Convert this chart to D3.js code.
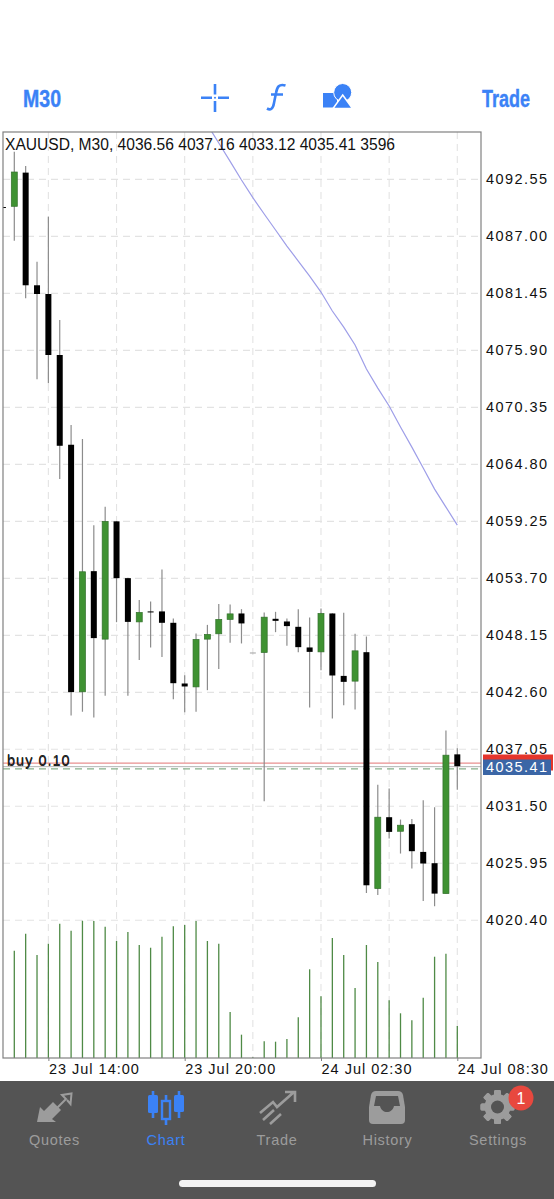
<!DOCTYPE html>
<html>
<head>
<meta charset="utf-8">
<script src="https://cdn.jsdelivr.net/npm/d3@7"></script>
<style>
html,body{margin:0;padding:0;background:#fff;overflow:hidden}
svg{display:block}
text{font-family:"Liberation Sans",Arial,sans-serif}
</style>
</head>
<body>
<script>
const candleIndex = d3.range(-1, 40);
const opens  = [4089.86,4089.93,4093.21,4082.24,4081.39,4075.45,4066.71,4042.65,4054.40,4047.78,4059.25,4053.72,4049.46,4050.48,4050.48,4049.37,4043.46,4043.13,4047.78,4048.30,4049.70,4050.28,4046.48,4046.48,4049.76,4049.50,4048.98,4046.97,4046.54,4050.28,4044.20,4043.69,4046.51,4023.49,4030.44,4029.07,4029.76,4027.06,4025.96,4023.00,4036.56];
const highs  = [4089.86,4095.25,4093.86,4084.54,4088.92,4078.86,4068.63,4067.26,4058.86,4060.67,4059.27,4053.75,4051.58,4051.45,4054.57,4049.80,4044.27,4048.33,4049.17,4051.19,4051.16,4050.70,4046.48,4050.38,4050.44,4049.80,4050.70,4049.89,4050.77,4050.31,4050.34,4048.30,4048.04,4033.59,4033.23,4030.21,4030.27,4032.09,4031.41,4038.88,4037.16];
const lows   = [4089.80,4086.58,4080.97,4073.08,4072.69,4063.37,4040.35,4040.70,4040.15,4042.26,4049.43,4042.26,4045.76,4046.97,4046.05,4041.93,4040.67,4040.70,4042.81,4044.86,4047.42,4047.36,4046.48,4032.00,4048.46,4047.13,4046.51,4041.13,4044.76,4040.05,4041.35,4040.93,4023.06,4022.87,4028.36,4026.90,4025.44,4022.28,4021.77,4023.00,4033.12];
const closes = [4089.80,4093.27,4082.24,4081.39,4075.45,4066.61,4042.62,4054.34,4047.88,4059.25,4053.72,4049.46,4050.38,4050.38,4049.37,4043.49,4043.17,4047.75,4048.24,4049.70,4050.24,4049.31,4046.48,4049.92,4049.56,4049.05,4047.00,4046.54,4050.28,4044.24,4043.62,4046.64,4023.81,4030.44,4029.01,4029.66,4027.13,4025.93,4023.00,4036.48,4035.41];
const volumes = [0,11980,13870,11500,12760,14985,14205,15320,15285,14650,13060,14060,12610,12310,13540,14695,14840,15285,13060,12760,5155,2630,110,1890,1850,2150,4565,9910,6900,13395,11500,7825,12615,10720,6455,5010,4230,6750,11310,11645,3596];
const maIndex = d3.range(17, 40);
const maValues = [4097.87,4096.10,4094.30,4092.49,4090.77,4089.18,4087.62,4086.06,4084.60,4083.14,4081.58,4079.73,4078.17,4076.42,4074.08,4072.23,4070.48,4068.43,4066.48,4064.44,4062.39,4060.64,4058.88];
const priceTicks = [4092.55,4087.00,4081.45,4075.90,4070.35,4064.80,4059.25,4053.70,4048.15,4042.60,4037.05,4031.50,4025.95,4020.40];
const gridIndex = [3,9,15,21,27,33,39];
const timeTickIndex = [3,15,27,39];
const timeTickLabels = ["23 Jul 14:00","23 Jul 20:00","24 Jul 02:30","24 Jul 08:30"];
const headerText = "XAUUSD, M30, 4036.56 4037.16 4033.12 4035.41 3596";
const askLevel = 4035.70, bidLevel = 4035.41, orderLevel = 4035.20;
const askTag = 4035.62;
const orderLabel = "buy 0.10";
const tabLabels = ["Quotes","Chart","Trade","History","Settings"];

const W = 554, H = 1199;
const plot = {l:3, r:481, t:132, b:1058};
const svg = d3.select("body").append("svg").attr("width",W).attr("height",H).attr("viewBox",`0 0 ${W} ${H}`);
svg.append("rect").attr("width",W).attr("height",H).attr("fill","#fff");

const x = d3.scaleLinear().domain([0,39]).range([14.3,457.3]);
const y = d3.scaleLinear().domain([4092.55,4020.40]).range([179.4,920.3]);
const yVol = d3.scaleLinear().domain([0,15320]).range([1058.3,920.7]);

svg.append("clipPath").attr("id","plotClip").append("rect")
  .attr("x",plot.l).attr("y",plot.t).attr("width",plot.r-plot.l).attr("height",plot.b-plot.t);

const GRID = "#e3e3e3";
const gridG = svg.append("g");
gridG.selectAll("line.h").data(priceTicks).join("line").attr("class","h")
  .attr("x1",plot.l).attr("x2",plot.r).attr("y1",d=>y(d)).attr("y2",d=>y(d))
  .attr("stroke",GRID).attr("stroke-width",1.1).attr("stroke-dasharray","7 5");
gridG.selectAll("line.v").data(gridIndex).join("line").attr("class","v")
  .attr("x1",d=>x(d)).attr("x2",d=>x(d)).attr("y1",plot.t).attr("y2",plot.b)
  .attr("stroke",GRID).attr("stroke-width",1.1).attr("stroke-dasharray","7 5");

const chart = svg.append("g").attr("clip-path","url(#plotClip)");

// moving average
const maLine = d3.line().x((d,i)=>x(maIndex[i])).y(d=>y(d));
chart.append("path").attr("d",maLine(maValues)).attr("fill","none").attr("stroke","#9e9ee8").attr("stroke-width",1.2);

// volume
chart.selectAll("line.vol").data(volumes).join("line").attr("class","vol")
  .attr("x1",(d,i)=>x(candleIndex[i])).attr("x2",(d,i)=>x(candleIndex[i]))
  .attr("y1",yVol(0)).attr("y2",d=>yVol(d))
  .attr("stroke","#4f8a46").attr("stroke-width",1.3);

// level lines
chart.append("line").attr("x1",plot.l).attr("x2",plot.r).attr("y1",y(bidLevel)+0.5).attr("y2",y(bidLevel)+0.5).attr("stroke","#b4b4b4").attr("stroke-width",1);
chart.append("line").attr("x1",plot.l).attr("x2",plot.r).attr("y1",y(askLevel)).attr("y2",y(askLevel)).attr("stroke","#e88f8f").attr("stroke-width",1.2);
chart.append("line").attr("x1",plot.l).attr("x2",plot.r).attr("y1",y(orderLevel)+0.6).attr("y2",y(orderLevel)+0.6).attr("stroke","#86b08a").attr("stroke-width",1.1).attr("stroke-dasharray","7 5");

// candles
const candles = candleIndex.map((c,i)=>({c,o:opens[i],h:highs[i],l:lows[i],cl:closes[i]}));
const cg = chart.selectAll("g.candle").data(candles).join("g").attr("class","candle");
cg.append("line").attr("x1",d=>x(d.c)).attr("x2",d=>x(d.c)).attr("y1",d=>y(d.h)).attr("y2",d=>y(d.l))
  .attr("stroke","#8c8c8c").attr("stroke-width",1.2);
cg.append("rect")
  .attr("x",d=>x(d.c)-3).attr("width",6)
  .attr("y",d=>y(Math.max(d.o,d.cl)))
  .attr("height",d=>Math.max(1,Math.abs(y(d.o)-y(d.cl))))
  .attr("fill",d=>d.o===d.cl?"#a0a0a0":(d.cl>d.o?"#3f9232":"#000"))
  .attr("stroke",d=>d.cl>d.o?"#33702c":"none").attr("stroke-width",0.7);

// border
svg.append("rect").attr("x",plot.l).attr("y",plot.t).attr("width",plot.r-plot.l).attr("height",plot.b-plot.t)
  .attr("fill","none").attr("stroke","#808080").attr("stroke-width",1.2);

// axes
const yAxis = d3.axisRight(y).tickValues(priceTicks).tickSize(0).tickPadding(5).tickFormat(d3.format(".2f"));
const yg = svg.append("g").attr("transform",`translate(${plot.r},0)`).call(yAxis);
yg.select(".domain").remove();
yg.selectAll("text").attr("font-size",14.5).attr("letter-spacing",1.45).attr("fill","#111").attr("dy","0.3em").style("font-family",'"Liberation Sans",Arial,sans-serif');

const xAxis = d3.axisBottom(x).tickValues(timeTickIndex).tickSize(3).tickPadding(4)
  .tickFormat((d,i)=>timeTickLabels[i]);
const xg = svg.append("g").attr("transform",`translate(0,${plot.b})`).call(xAxis);
xg.select(".domain").remove();
xg.selectAll("line").attr("stroke","#808080");
xg.selectAll("text").attr("text-anchor","start").attr("font-size",14.5).attr("letter-spacing",1).attr("fill","#111").attr("y",5).attr("dy","0.76em").style("font-family",'"Liberation Sans",Arial,sans-serif');

// price tags
svg.append("rect").attr("x",483).attr("y",754.5).attr("width",70).attr("height",16).attr("fill","#e5352b");
svg.append("rect").attr("x",483).attr("y",759.5).attr("width",68).attr("height",15.5).attr("fill","#3b66a6");
svg.append("text").attr("x",486).attr("y",772).attr("font-size",14.5).attr("letter-spacing",1.45).attr("fill","#fff").text(d3.format(".2f")(bidLevel));

// order label (drawn twice, as in the terminal)
[-0.8,0.8].forEach(dy=>svg.append("text").attr("x",7).attr("y",765.5+dy).attr("font-size",14.5).attr("letter-spacing",1).attr("fill","#222").text(orderLabel));

// header text
svg.append("text").attr("x",5).attr("y",149.5).attr("font-size",16).attr("fill","#111").attr("textLength",390).attr("lengthAdjust","spacingAndGlyphs").text(headerText);

// toolbar
const BLUE = "#3b82f6";
const tb = svg.append("g");
tb.append("text").attr("x",23).attr("y",106.5).attr("font-size",23).attr("font-weight","bold").attr("fill",BLUE).attr("stroke",BLUE).attr("stroke-width",0.4).attr("textLength",38).attr("lengthAdjust","spacingAndGlyphs").text("M30");
tb.append("text").attr("x",482).attr("y",106.5).attr("font-size",23).attr("font-weight","bold").attr("fill",BLUE).attr("stroke",BLUE).attr("stroke-width",0.4).attr("textLength",48).attr("lengthAdjust","spacingAndGlyphs").text("Trade");
tb.append("path").attr("d","M201,97.7H212M218,97.7H229M215,84V94.5M215,101V112").attr("stroke",BLUE).attr("stroke-width",2.6).attr("fill","none");
tb.append("circle").attr("cx",215).attr("cy",97.7).attr("r",1).attr("fill",BLUE);
tb.append("path").attr("d","M285.5,85.5C279,83.5 277,87 276,93L274,103C273,109 270.5,110.5 267,108.5M271,94.5H283").attr("stroke",BLUE).attr("stroke-width",2.6).attr("fill","none");
tb.append("rect").attr("x",323).attr("y",93).attr("width",14).attr("height",14.5).attr("fill",BLUE);
tb.append("circle").attr("cx",342.7).attr("cy",92.5).attr("r",9).attr("fill",BLUE).attr("stroke","#fff").attr("stroke-width",1);
tb.append("path").attr("d","M342.7,95L352.5,108.5H333Z").attr("fill",BLUE).attr("stroke","#fff").attr("stroke-width",1.5);

// tab bar
const bar = svg.append("g");
bar.append("rect").attr("x",0).attr("y",1081).attr("width",W).attr("height",H-1081).attr("fill","#545454");
const G = "#9c9c9c";
const tabX = [54.5,166,277,387.5,498];
bar.selectAll("text.tab").data(tabLabels).join("text").attr("class","tab")
  .attr("x",(d,i)=>tabX[i]).attr("y",1145).attr("text-anchor","middle").attr("font-size",14.5).attr("letter-spacing",0.7)
  .attr("fill",(d,i)=>i===1?BLUE:G).text(d=>d);
// quotes icon
bar.append("path").attr("d","M37,1122L40,1107L44,1111L53,1102L61,1110L52,1119L56,1122Z").attr("fill",G);
bar.append("path").attr("d","M57,1108L66,1099L62,1095L71.5,1093.5L70.5,1104L67,1100").attr("fill","none").attr("stroke",G).attr("stroke-width",2);
// chart icon
bar.append("path").attr("d","M153,1091V1095M153,1113V1118M179,1091V1095M179,1112V1118M166,1095V1101M166,1119V1125").attr("stroke",BLUE).attr("stroke-width",2.6);
bar.append("rect").attr("x",148).attr("y",1095).attr("width",10).attr("height",18).attr("rx",1.5).attr("fill",BLUE);
bar.append("rect").attr("x",174).attr("y",1095).attr("width",10).attr("height",17).attr("rx",1.5).attr("fill",BLUE);
bar.append("rect").attr("x",162).attr("y",1101).attr("width",8).attr("height",18).attr("fill","none").attr("stroke",BLUE).attr("stroke-width",2.4);
// trade icon
bar.append("path").attr("d","M260,1113L273,1102L277,1107L294,1092M285,1092H295V1102").attr("fill","none").attr("stroke",G).attr("stroke-width",2.6);
bar.append("path").attr("d","M263,1120L274,1110M270,1124L281,1114").attr("fill","none").attr("stroke",G).attr("stroke-width",2.6);
// history icon
bar.append("path").attr("d","M376,1091H398Q402,1091 403,1095L405,1107V1120Q405,1124 401,1124H373Q369,1124 369,1120V1107L371,1095Q372,1091 376,1091Z").attr("fill",G);
bar.append("path").attr("d","M374,1106L376,1096H398L400,1106H394C392,1114 382,1114 380,1106Z").attr("fill","#545454");
// settings icon
const gearTeeth = d3.range(8).map(i=>i*45);
bar.selectAll("rect.tooth").data(gearTeeth).join("rect").attr("class","tooth")
  .attr("x",494).attr("y",1090).attr("width",7).attr("height",34).attr("rx",1.5).attr("fill",G)
  .attr("transform",d=>`rotate(${d} 497.5 1107)`);
bar.append("circle").attr("cx",497.5).attr("cy",1107).attr("r",13).attr("fill",G);
bar.append("circle").attr("cx",497.5).attr("cy",1107).attr("r",6.5).attr("fill","#545454");
bar.append("circle").attr("cx",521).attr("cy",1098).attr("r",12.5).attr("fill","#e8483e");
bar.append("text").attr("x",521).attr("y",1104).attr("text-anchor","middle").attr("font-size",16).attr("fill","#fff").text("1");
// home indicator
bar.append("rect").attr("x",179).attr("y",1180).attr("width",197).attr("height",7).attr("rx",3.5).attr("fill","#f2f2f2");
</script>
</body>
</html>
